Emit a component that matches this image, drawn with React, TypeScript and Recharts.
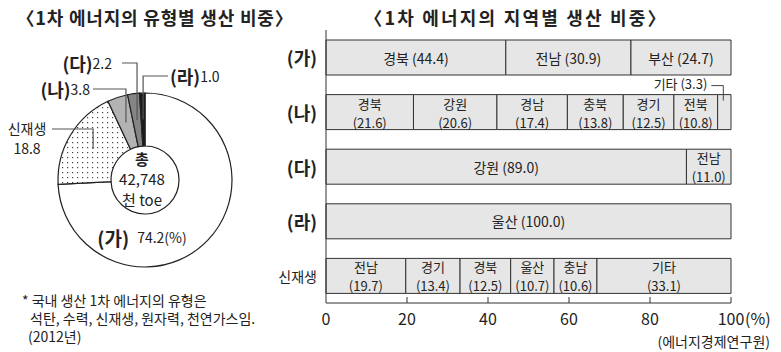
import { PieChart, Pie, Cell, BarChart, Bar, XAxis, YAxis, LabelList } from "recharts";

const FONT = '"Noto Sans CJK KR", "Noto Sans", sans-serif';
const INK = "#222";

// 1차 에너지의 유형별 생산 비중 (%)
const typeNames = ["(가)", "신재생", "(나)", "(다)", "(라)"];
const typeShares = [74.2, 18.8, 3.8, 2.2, 1.0];
const totalLines = ["총", "42,748", "천 toe"];

// 1차 에너지의 지역별 생산 비중 (%)
const categories = ["(가)", "(나)", "(다)", "(라)", "신재생"];
const regionNames = [
  ["경북", "전남", "부산"],
  ["경북", "강원", "경남", "충북", "경기", "전북", "기타"],
  ["강원", "전남"],
  ["울산"],
  ["전남", "경기", "경북", "울산", "충남", "기타"],
];
const regionShares = [
  [44.4, 30.9, 24.7],
  [21.6, 20.6, 17.4, 13.8, 12.5, 10.8, 3.3],
  [89.0, 11.0],
  [100.0],
  [19.7, 13.4, 12.5, 10.7, 10.6, 33.1],
];
const xTicks = [0, 20, 40, 60, 80, 100];

const typeFills = ["#ffffff", "url(#dots)", "#b3b3b3", "#858585", "#1a1a1a"];

// callout placement relative to pie centre (index matches typeNames)
const callouts: any[] = [
  null,
  { dy: -51, dx: -93, anchor: "middle", gap: -25 },
  { dy: -91, dx: -52, anchor: "end", gap: -3 },
  { dy: -117, dx: -23, anchor: "end", gap: -10 },
  { dy: -104, dx: 23, anchor: "start", gap: 2 },
];

const segCount = Math.max(...regionShares.map((r) => r.length));
const barData = categories.map((cat, i) => {
  const row: any = { cat };
  regionShares[i].forEach((v, j) => (row[`s${j}`] = v));
  return row;
});

const RAD = Math.PI / 180;

function renderPieLabel(p: any) {
  const { cx, cy, midAngle, innerRadius, outerRadius, index } = p;
  if (index === 0) {
    return (
      <g fontFamily={FONT} fill={INK}>
        <text x={cx - 3} y={cy - 22} textAnchor="middle" dominantBaseline="central" fontSize={15}>
          <tspan x={cx - 3} fontWeight={700}>{totalLines[0]}</tspan>
          <tspan x={cx - 3} dy={20}>{totalLines[1]}</tspan>
          <tspan x={cx - 3} dy={21}>{totalLines[2]}</tspan>
        </text>
        <text x={cx - 3} y={cy + 57} textAnchor="middle" dominantBaseline="central">
          <tspan fontSize={19} fontWeight={700}>{typeNames[0]}</tspan>
          <tspan dx={8} fontSize={14}>{`${typeShares[0].toFixed(1)}(%)`}</tspan>
        </text>
      </g>
    );
  }
  const c = callouts[index];
  const r = (innerRadius + outerRadius) / 2;
  const px = cx + r * Math.cos(-midAngle * RAD);
  const py = cy + r * Math.sin(-midAngle * RAD);
  const ly = cy + c.dy;
  const lx = cx + c.dx;
  const val = typeShares[index].toFixed(1);
  return (
    <g fontFamily={FONT} fill={INK}>
      <polyline points={`${px},${py} ${px},${ly} ${lx},${ly}`} fill="none" stroke="#555" strokeWidth={1.2} />
      {c.anchor === "middle" ? (
        <text x={lx + c.gap} y={ly - 1} textAnchor="middle" dominantBaseline="central" fontSize={14}>
          <tspan x={lx + c.gap}>{typeNames[index]}</tspan>
          <tspan x={lx + c.gap} dy={20}>{val}</tspan>
        </text>
      ) : (
        <text x={lx + c.gap} y={ly} textAnchor={c.anchor} dominantBaseline="central">
          <tspan fontSize={18} fontWeight={700}>{typeNames[index]}</tspan>
          <tspan fontSize={14}>{val}</tspan>
        </text>
      )}
    </g>
  );
}

// LabelList is keyed by "cat" so each label knows its row
const makeSegLabel = (seg: number) => (p: any) => {
  const { x, y, width, height, value } = p;
  const row = categories.indexOf(value);
  const v = regionShares[row]?.[seg];
  if (v == null) return null;
  const name = regionNames[row][seg];
  const val = `(${v.toFixed(1)})`;
  const mx = x + width / 2;
  const my = y + height / 2;
  if (v < 5) {
    const lx = mx - 1;
    const ly = y - 9;
    return (
      <g fontFamily={FONT} fill={INK}>
        <polyline points={`${lx - 12},${ly} ${lx},${ly} ${lx},${y + 6}`} fill="none" stroke="#444" />
        <text x={lx - 16} y={ly - 2} textAnchor="end" dominantBaseline="central" fontSize={13}>
          {`${name} ${val}`}
        </text>
      </g>
    );
  }
  const twoLine = regionShares[row].length > 3 || v < 15;
  if (!twoLine) {
    return (
      <text x={mx} y={my} textAnchor="middle" dominantBaseline="central" fontSize={14} fontFamily={FONT} fill={INK}>
        {`${name} ${val}`}
      </text>
    );
  }
  return (
    <text x={mx} y={my - 9.5} textAnchor="middle" dominantBaseline="central" fontFamily={FONT} fill={INK} fontSize={13}>
      <tspan x={mx}>{name}</tspan>
      <tspan x={mx} dy={19}>{val}</tspan>
    </text>
  );
};

function XTick(p: any) {
  const { x, y, payload } = p;
  const v = payload.value;
  return (
    <g fontFamily={FONT} fill={INK}>
      {v > 0 && <line x1={x} x2={x} y1={y} y2={y - 6} stroke="#333" />}
      <text x={x} y={y + 15} textAnchor="middle" dominantBaseline="central" fontSize={16}>
        {v}
      </text>
      {v === 100 && (
        <text x={x + 14} y={y + 15} textAnchor="start" dominantBaseline="central" fontSize={16}>
          (%)
        </text>
      )}
    </g>
  );
}

function CatTick(p: any) {
  const { x, y, payload } = p;
  const bold = String(payload.value).startsWith("(");
  return (
    <text
      x={x}
      y={y}
      textAnchor="end"
      dominantBaseline="central"
      fontFamily={FONT}
      fill={INK}
      fontSize={bold ? 18 : 14}
      fontWeight={bold ? 700 : 400}
    >
      {payload.value}
    </text>
  );
}

export default function App() {
  return (
    <div style={{ position: "absolute", left: 0, top: 0, width: 781, height: 352, background: "#fff" }}>
      <div style={{ position: "absolute", left: 0, top: 0 }}>
        <PieChart width={290} height={352} margin={{ top: 0, right: 0, bottom: 0, left: 0 }}>
          <defs>
            <pattern id="dots" width={5} height={5} patternUnits="userSpaceOnUse">
              <rect width={5} height={5} fill="#fff" />
              <rect x={2} y={2} width={1.2} height={1.2} fill="#444" />
            </pattern>
          </defs>
          <Pie
            data={typeNames.map((name, i) => ({ name, value: typeShares[i] }))}
            dataKey="value"
            cx={145}
            cy={180}
            innerRadius={34}
            outerRadius={87}
            startAngle={90}
            endAngle={-270}
            stroke="#222"
            strokeWidth={1.2}
            label={renderPieLabel}
            labelLine={false}
            isAnimationActive={false}
          >
            {typeNames.map((n, i) => (
              <Cell key={n} fill={typeFills[i]} />
            ))}
          </Pie>
        </PieChart>
      </div>
      <div style={{ position: "absolute", left: 270, top: 0 }}>
        <BarChart
          width={511}
          height={352}
          layout="vertical"
          data={barData}
          margin={{ top: 30, right: 50, bottom: 19, left: 0 }}
          barSize={35}
        >
          <XAxis
            type="number"
            domain={[0, 100]}
            ticks={xTicks}
            height={30}
            axisLine={{ stroke: "#333" }}
            tickLine={false}
            tickSize={0}
            tickMargin={0}
            tick={<XTick />}
            interval={0}
          />
          <YAxis
            type="category"
            dataKey="cat"
            width={56}
            axisLine={{ stroke: "#333" }}
            tickLine={false}
            tickSize={0}
            tickMargin={9}
            tick={<CatTick />}
          />
          {Array.from({ length: segCount }, (_, j) => (
            <Bar
              key={j}
              dataKey={`s${j}`}
              stackId="a"
              fill="#e6e6e6"
              stroke="#333"
              strokeWidth={1}
              isAnimationActive={false}
            >
              <LabelList dataKey="cat" content={makeSegLabel(j)} />
            </Bar>
          ))}
        </BarChart>
      </div>
      <svg
        width={781}
        height={352}
        style={{ position: "absolute", left: 0, top: 0, pointerEvents: "none" }}
        fontFamily={FONT}
        fill={INK}
      >
        <text x={155} y={17} textAnchor="middle" dominantBaseline="central" fontSize={18} fontWeight={700} letterSpacing={0.8}>
          〈1차 에너지의 유형별 생산 비중〉
        </text>
        <text x={516} y={17} textAnchor="middle" dominantBaseline="central" fontSize={18} fontWeight={700} letterSpacing={2.2}>
          〈1차 에너지의 지역별 생산 비중〉
        </text>
        <text x={22} y={300} dominantBaseline="central" fontSize={14}>
          <tspan x={22}>* 국내 생산 1차 에너지의 유형은</tspan>
          <tspan x={30} dy={18}>석탄, 수력, 신재생, 원자력, 천연가스임.</tspan>
          <tspan x={28} dy={18}>(2012년)</tspan>
        </text>
        <text x={770} y={341} textAnchor="end" dominantBaseline="central" fontSize={14}>
          (에너지경제연구원)
        </text>
      </svg>
    </div>
  );
}
